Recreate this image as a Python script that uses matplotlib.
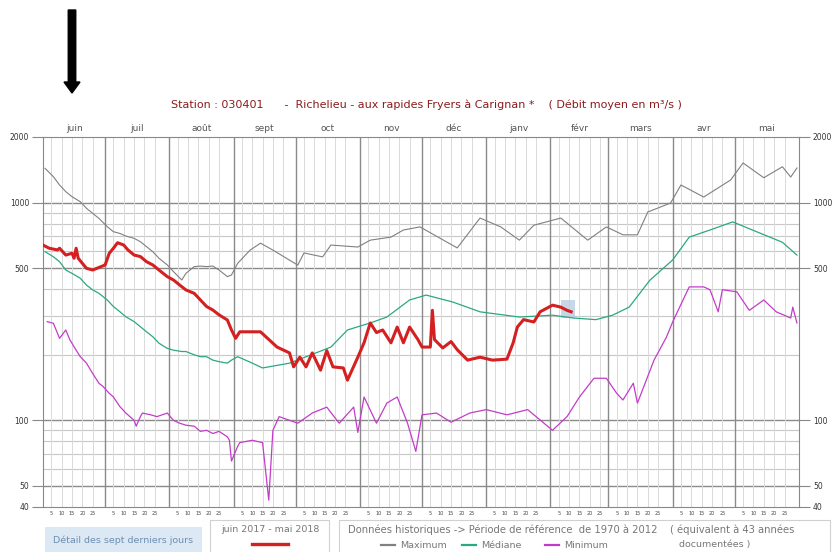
import matplotlib.pyplot as plt
import matplotlib.patches as patches
import matplotlib.transforms as mtransforms

# jours depuis le 1er juin 2017 (0..364)
months = ['juin', 'juil', 'août', 'sept', 'oct', 'nov', 'déc', 'janv', 'févr', 'mars', 'avr', 'mai']
month_len = [30, 31, 31, 30, 31, 30, 31, 31, 28, 31, 30, 31]
y_ticks = [40, 50, 100, 500, 1000, 2000]

max_days = [1, 5, 8, 11, 14, 18, 21, 24, 27, 31, 34, 37, 40, 44, 47, 50, 53, 56, 60, 63, 67, 69,
            73, 76, 79, 82, 85, 89, 91, 94, 100, 105, 111, 123, 126, 135, 139, 152, 158,
            168, 174, 182, 200, 211, 221, 230, 237, 250, 263, 272, 280, 287, 292, 303, 308, 319,
            332, 338, 348, 357, 361, 364]
max_vals = [1436, 1315, 1204, 1122, 1064, 1009, 941, 892, 846, 775, 735, 722, 702, 685, 661, 627,
            595, 555, 517, 482, 441, 473, 508, 511, 508, 511, 490, 457, 465, 526, 605, 651, 605,
            516, 587, 563, 638, 625, 672, 694, 748, 773, 619, 849, 773, 672, 787, 849, 672, 773,
            711, 711, 905, 995, 1204, 1060, 1270, 1520, 1300, 1460, 1310, 1441]

med_days = [1, 5, 8, 11, 14, 18, 21, 24, 27, 31, 34, 37, 40, 44, 47, 50, 53, 56, 60, 63, 67, 69,
            73, 76, 79, 82, 85, 89, 91, 94, 100, 106, 119, 139, 147, 158, 166, 177, 185, 198, 211,
            230, 246, 256, 267, 275, 283, 293, 304, 312, 322, 333, 346, 357, 364]
med_vals = [595, 564, 535, 490, 473, 449, 418, 397, 383, 357, 333, 316, 299, 284, 269, 255, 242,
            226, 214, 210, 207, 207, 200, 196, 196, 189, 186, 183, 189, 196, 185, 174, 183, 217,
            260, 280, 298, 357, 376, 349, 315, 298, 304, 295, 290, 304, 331, 440, 545, 694, 748,
            815, 725, 657, 574]

min_days = [2, 5, 8, 11, 13, 16, 18, 21, 24, 27, 29, 32, 34, 37, 40, 44, 45, 47, 48, 52, 55, 60,
            63, 66, 69, 73, 76, 79, 82, 85, 89, 90, 91, 94, 95, 101, 106, 109, 111, 114,
            123, 130, 137, 143, 150, 152, 155, 161, 166, 171, 176, 180, 183, 190, 197, 206, 214,
            224, 234, 246, 253, 259, 266, 272, 277, 280, 285, 287, 295, 301, 304, 312, 319, 322,
            326, 328, 335, 341, 348, 354, 361, 362, 364]
min_vals = [284, 279, 238, 260, 234, 210, 196, 183, 164, 148, 143, 133, 128, 116, 108, 100, 94, 104,
            108, 106, 104, 108, 100, 97, 95, 94, 89, 90, 87, 89, 84, 81, 65, 76, 79, 81, 79, 43,
            90, 104, 97, 108, 115, 97, 115, 88, 128, 97, 120, 128, 97, 72, 106, 108, 98, 108, 112,
            106, 112, 90, 104, 128, 156, 156, 133, 124, 148, 120, 189, 241, 283, 410, 410, 398,
            315, 398, 389, 320, 357, 315, 295, 331, 280]

cur_days = [0, 3, 7, 8, 11, 14, 15, 16, 17, 19, 21, 24, 28, 30, 32, 34, 36, 39, 41, 44, 47, 50,
            53, 56, 60, 63, 66, 69, 73, 76, 79, 82, 85, 89, 91, 93, 95, 105, 113, 119,
            121, 124, 127, 130, 134, 137, 140, 145, 147, 152, 155, 158, 161, 164, 168, 171, 174,
            177, 181, 183, 187, 188, 189, 193, 197, 200, 205, 211, 217, 224, 227, 229, 232, 237,
            240, 246, 250, 253, 255]
cur_vals = [638, 617, 606, 617, 574, 585, 555, 617, 555, 526, 499, 490, 508, 517, 585, 617, 654,
            638, 606, 574, 565, 535, 517, 490, 457, 441, 418, 397, 383, 357, 333, 321, 305, 289,
            260, 238, 255, 255, 217, 204, 176, 195, 176, 204, 170, 209, 176, 174, 153, 195, 227,
            280, 253, 260, 227, 268, 227, 268, 235, 217, 217, 320, 235, 215, 230, 211, 189, 195,
            189, 191, 227, 268, 290, 283, 315, 338, 331, 320, 315]

fig = plt.figure(figsize=(8.33, 5.52), dpi=100)
ax = fig.add_axes([43 / 833, 45 / 552, 756 / 833, 370 / 552])
ax.set_yscale('log')
ax.set_xlim(0, 365)
ax.set_ylim(40, 2000)

# grille
for v in [60, 70, 80, 90, 200, 300, 400, 600, 700, 800, 900]:
    ax.axhline(v, color='#c8c8c8', lw=0.8, zorder=0)
for v in [50, 100, 500, 1000]:
    ax.axhline(v, color='#8a8a8a', lw=1.0, zorder=0)
start = 0
month_starts = []
for n in month_len:
    month_starts.append(start)
    for d in [4, 9, 14, 19, 24]:
        ax.axvline(start + d, color='#dadada', lw=0.7, zorder=0)
    if start > 0:
        ax.axvline(start, color='#8a8a8a', lw=1.0, zorder=0)
    start += n

# sept derniers jours
ax.add_patch(patches.Rectangle((250, 295), 7, 62, color='#b9cde3', alpha=0.8, zorder=1, lw=0))

ax.plot(max_days, max_vals, color='#808080', lw=0.8, zorder=2)
ax.plot(med_days, med_vals, color='#2aa884', lw=0.9, zorder=2)
ax.plot(min_days, min_vals, color='#c33cc9', lw=0.9, zorder=2)
ax.plot(cur_days, cur_vals, color='#d42020', lw=2.2, zorder=3)

ax.set_yticks(y_ticks)
ax.set_yticklabels([str(v) for v in y_ticks])
ax.yaxis.set_minor_locator(plt.NullLocator())
ax.tick_params(axis='y', which='major', length=8, width=0.8, color='#888888',
               labelsize=5.5, labelcolor='#333333', right=True, labelright=True, pad=2)
ax.set_xticks([])
for s in ax.spines.values():
    s.set_color('#888888')

trans = mtransforms.blended_transform_factory(ax.transData, ax.transAxes)
for name, s0, n in zip(months, month_starts, month_len):
    ax.text(s0 + n / 2, 1.012, name, transform=trans, ha='center', va='bottom',
            fontsize=6.5, color='#555555')
    for d in [5, 10, 15, 20, 25]:
        ax.text(s0 + d - 1, -0.012, str(d), transform=trans, ha='center', va='top',
                fontsize=3.5, color='#444444')

fig.text(426 / 833, 1 - 105 / 552,
         'Station : 030401      -  Richelieu - aux rapides Fryers à Carignan *    ( Débit moyen en m³/s )',
         ha='center', va='center', fontsize=8, color='#8b1c1c')

# flèche
fig.patches.append(patches.FancyArrow(72 / 833, 1 - 10 / 552, 0, -83 / 552, width=7.5 / 833,
                                      head_width=16 / 833, head_length=11 / 552,
                                      length_includes_head=True, color='black',
                                      transform=fig.transFigure, figure=fig))


# cadres de légende
def fig_box(x0, y0, x1, y1, **kw):
    fig.patches.append(patches.Rectangle((x0 / 833, 1 - y1 / 552), (x1 - x0) / 833, (y1 - y0) / 552,
                                         transform=fig.transFigure, figure=fig, **kw))


fig_box(45, 527, 202, 552, facecolor='#dce8f4', edgecolor='none')
fig.text(123 / 833, 1 - 540 / 552, 'Détail des sept derniers jours', ha='center', va='center',
         fontsize=6.8, color='#6d8fb2')
fig_box(210, 520, 329, 560, facecolor='none', edgecolor='#d0d0d0', lw=0.8)
fig.text(270 / 833, 1 - 530 / 552, 'juin 2017 - mai 2018', ha='center', va='center',
         fontsize=6.8, color='#777777')
fig.lines.append(plt.Line2D([252 / 833, 288 / 833], [1 - 544 / 552] * 2, color='#d42020', lw=2.4,
                            transform=fig.transFigure, figure=fig))
fig_box(339, 520, 830, 560, facecolor='none', edgecolor='#d0d0d0', lw=0.8)
fig.text(348 / 833, 1 - 530 / 552,
         'Données historiques -> Période de référence  de 1970 à 2012    ( équivalent à 43 années',
         ha='left', va='center', fontsize=7.2, color='#777777')
for x0, col, label in [(381, '#808080', 'Maximum'), (462, '#2aa884', 'Médiane'),
                       (545, '#c33cc9', 'Minimum')]:
    fig.lines.append(plt.Line2D([x0 / 833, (x0 + 14) / 833], [1 - 545 / 552] * 2, color=col, lw=1.6,
                                transform=fig.transFigure, figure=fig))
    fig.text((x0 + 19) / 833, 1 - 545 / 552, label, ha='left', va='center', fontsize=6.8,
             color='#777777')
fig.text(715 / 833, 1 - 545 / 552, 'documentées )', ha='center', va='center', fontsize=6.8,
         color='#777777')

fig.savefig('out.png', dpi=100)
